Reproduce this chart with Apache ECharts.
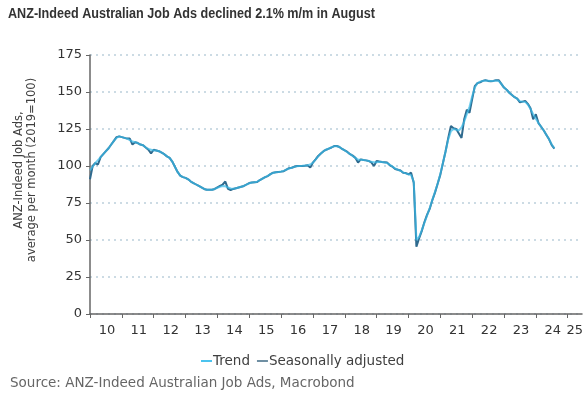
<!DOCTYPE html>
<html>
<head>
<meta charset="utf-8">
<script src="https://cdn.jsdelivr.net/npm/echarts@6/dist/echarts.min.js"></script>
<style>
  html, body { margin: 0; padding: 0; background: #fff; }
  #chart { width: 587px; height: 398px; }
</style>
</head>
<body>
<div id="chart"></div>
<script>
// monthly index values, Jan 2010 .. Aug 2024 (2019 = 100)
const startYear = 2010
const seasAdj = [
  91, 100, 102, 101, 106, 108, 110, 112, 114.5, 117, 119.5, 120,
  119.5, 119, 118.5, 118.5, 114.5, 116, 115.5, 114.5, 114, 112.5, 111, 108.5,
  111, 110.5, 110, 109, 108, 106.5, 105.5, 103, 99.5, 96, 93.5, 92.5,
  92, 91, 89.5, 88.5, 87.5, 86.5, 85.5, 84.5, 84, 84, 84, 84.5,
  85.5, 86.5, 87.5, 89.5, 84.5, 83.8, 84.5, 85, 85.5, 86, 86.5, 87.5,
  88.5, 88.8, 89, 89.2, 90.5, 91.5, 92.5, 93.2, 94.5, 95.5, 95.8, 96,
  96.2, 96.5, 97.5, 98.5, 98.8, 99.5, 100, 100, 100, 100.2, 100.5, 98.9,
  102.3, 104.5, 106.8, 108.5, 110, 111, 111.7, 112.5, 113.5, 113.5, 112.8, 111.5,
  110.5, 109.5, 108, 107, 105.5, 102.3, 104.5, 104, 103.8, 103.4, 102.5, 100,
  103.4, 103, 102.7, 102.5, 102.3, 100.5, 99.5, 98, 97.5, 97, 95.5, 95.2,
  94.4, 95.5, 88.7, 45.5, 51, 56, 62, 67, 71, 77, 82, 88,
  94, 102, 110, 119, 127, 125.5, 125, 122, 119, 131.5, 138, 136,
  145, 154, 156, 156.5, 157.5, 158, 157.5, 157.2, 157.5, 158, 158, 155.5,
  153, 151.5, 149.5, 148, 146.5, 145.5, 143, 143.5, 144, 142, 139, 131.5,
  135, 129, 126.5, 124, 121, 118, 114.1, 111.7
]
const trend = [
  97, 99.5, 102, 104, 106, 108, 110, 112, 114.5, 117, 119, 120,
  119.5, 119, 118.5, 117.5, 116.5, 116, 115.5, 114.5, 114, 112.5, 111.5, 111,
  110.5, 110.5, 110, 109, 108, 106.5, 105.5, 103, 99.5, 96, 93.5, 92.5,
  92, 91, 89.5, 88.5, 87.5, 86.5, 85.5, 84.5, 84, 84, 84, 84.5,
  85.3, 86, 86.5, 86.3, 85.5, 84.8, 84.6, 85, 85.5, 86, 86.5, 87.5,
  88.3, 88.8, 89, 89.4, 90.5, 91.5, 92.5, 93.3, 94.5, 95.3, 95.8, 96,
  96.3, 96.7, 97.5, 98.3, 98.8, 99.4, 99.9, 100, 100.1, 100.3, 100.5, 101,
  102.3, 104.3, 106.5, 108.5, 110, 111, 111.8, 112.6, 113.4, 113.4, 112.8, 111.6,
  110.5, 109.3, 108, 106.8, 105.5, 104.3, 104.2, 104, 103.8, 103.4, 102.8, 102.5,
  102.6, 102.8, 102.7, 102.4, 102, 100.8, 99.6, 98.3, 97.5, 96.8, 95.7, 95,
  94.4, 93.8, 89.5, 50, 52, 56.5, 61.5, 66.5, 71.5, 77, 82.5, 88,
  94.5, 102, 110, 118, 123.5, 125, 124.5, 124, 126, 130, 135, 140,
  147, 153, 156, 157, 157.5, 157.8, 157.6, 157.4, 157.5, 157.7, 157.5, 155.5,
  153, 151.5, 149.5, 148, 146.5, 145.3, 143.8, 143.5, 143.3, 141.5, 138.5, 135,
  132, 129, 126.5, 124, 121, 118, 114.5, 112
]
const seriesNames = ['Trend', 'Seasonally adjusted']

const toPoints = (arr) => arr.map((v, i) => [startYear + i / 12, v])

const chart = echarts.init(document.getElementById('chart'))
const labelFont = '"DejaVu Sans", Verdana, sans-serif'

chart.setOption({
  animation: false,
  backgroundColor: '#fff',
  grid: { left: 90, right: 5, top: 55, bottom: 84 },
  graphic: [
    {
      type: 'text', x: 8, y: 7, scaleX: 0.9,
      style: { text: 'ANZ-Indeed Australian Job Ads declined 2.1% m/m in August', font: 'bold 14px "Liberation Sans", Arial, sans-serif', fill: '#333' },
    },
    {
      type: 'text', x: 26, y: 170, rotation: Math.PI / 2,
      style: {
        text: 'ANZ-Indeed Job Ads,\naverage per month (2019=100)',
        font: '11.5px ' + labelFont, fill: '#404040',
        textAlign: 'center', textVerticalAlign: 'middle', lineHeight: 13,
      },
    },
    {
      type: 'text', x: 10, y: 383,
      style: { text: 'Source: ANZ-Indeed Australian Job Ads, Macrobond', font: '13.5px ' + labelFont, fill: '#666', textVerticalAlign: 'middle' },
    },
  ],
  legend: {
    data: seriesNames,
    left: 196, top: 349,
    icon: 'rect', itemWidth: 11, itemHeight: 2, itemGap: 7,
    textStyle: { fontFamily: labelFont, fontSize: 13.5, color: '#404040', padding: [0, 0, 0, -4] },
  },
  xAxis: {
    type: 'value',
    min: 2010, max: 2025.45, interval: 1,
    axisLine: { lineStyle: { color: '#666', width: 1.5 } },
    axisTick: { show: true, length: 4, lineStyle: { color: '#666' } },
    splitLine: { show: false },
    axisLabel: {
      margin: 10,
      formatter: (v) => {
        const s = String(v % 100).padStart(2, '0')
        return v === 2025 ? '{e|' + s + '}' : '{n|' + s + '}'
      },
      rich: {
        n: { fontFamily: labelFont, fontSize: 13, color: '#333', padding: [0, 0, 0, 34] },
        e: { fontFamily: labelFont, fontSize: 13, color: '#333', padding: [0, 0, 0, 14] },
      },
    },
  },
  yAxis: {
    type: 'value',
    min: 0, max: 175, interval: 25,
    axisLine: { show: true, lineStyle: { color: '#666', width: 1.5 } },
    axisTick: { show: true, length: 4, lineStyle: { color: '#666' } },
    axisLabel: { margin: 8, fontFamily: labelFont, fontSize: 13, color: '#333' },
    splitLine: { lineStyle: { color: '#bcd0dc', type: [2, 4], width: 1.5 } },
  },
  series: [
    {
      name: 'Seasonally adjusted', type: 'line', z: 2,
      data: toPoints(seasAdj), showSymbol: false,
      lineStyle: { color: '#2f6a8e', width: 2 },
      itemStyle: { color: '#6f8fa3' },
    },
    {
      name: 'Trend', type: 'line', z: 3,
      data: toPoints(trend), showSymbol: false,
      lineStyle: { color: '#3bbbe8', width: 2, opacity: 0.7 },
      itemStyle: { color: '#4cc3ee' },
    },
  ],
})
</script>
</body>
</html>
